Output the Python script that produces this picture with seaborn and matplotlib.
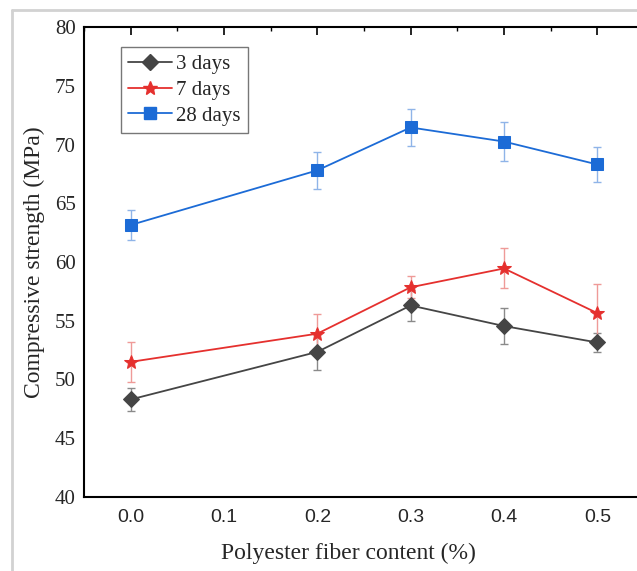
import numpy as np
import pandas as pd
import matplotlib
matplotlib.use("Agg")
import matplotlib.pyplot as plt
import seaborn as sns
from matplotlib.lines import Line2D
from matplotlib.ticker import MultipleLocator

# ---- data ----
fiber = [0.0, 0.2, 0.3, 0.4, 0.5]
s3 = [48.3, 52.35, 56.3, 54.55, 53.15]
e3 = [1.0, 1.5, 1.3, 1.5, 0.8]
s7 = [51.5, 53.9, 57.85, 59.45, 55.65]
e7 = [1.7, 1.7, 0.95, 1.7, 2.5]
s28 = [63.15, 67.8, 71.45, 70.25, 68.3]
e28 = [1.25, 1.55, 1.55, 1.65, 1.5]
series_names = ["3 days", "7 days", "28 days"]
x_ticks = [0.0, 0.1, 0.2, 0.3, 0.4, 0.5]
y_ticks = [40, 45, 50, 55, 60, 65, 70, 75, 80]

colors = {"3 days": "#454545", "7 days": "#e5302e", "28 days": "#1c6bd6"}
err_colors = {"3 days": "#8a8a8a", "7 days": "#ef9a98", "28 days": "#8fb4e8"}
markers = {"3 days": "D", "7 days": "*", "28 days": "s"}
msizes = {"3 days": 8, "7 days": 10, "28 days": 8}

df = pd.DataFrame({
    "fiber": fiber * 3,
    "strength": s3 + s7 + s28,
    "err": e3 + e7 + e28,
    "age": [series_names[0]] * 5 + [series_names[1]] * 5 + [series_names[2]] * 5,
})

sns.set_style("white")
plt.rcParams["font.family"] = ["Liberation Serif", "DejaVu Serif"]

fig = plt.figure(figsize=(6.37, 5.71), dpi=100)
ax = fig.add_axes([84 / 637, 1 - 497 / 571, 560 / 637, 470 / 571])

handles = []
for name in series_names:
    d = df[df["age"] == name]
    ax.errorbar(d["fiber"], d["strength"], yerr=d["err"], fmt="none",
                ecolor=err_colors[name], elinewidth=1.0, capsize=3, capthick=1.0, zorder=2)
    sns.lineplot(data=d, x="fiber", y="strength", ax=ax, color=colors[name],
                 marker=markers[name], markersize=msizes[name],
                 markeredgecolor=colors[name], linewidth=1.3, zorder=3, legend=False)
    handles.append(Line2D([], [], color=colors[name], marker=markers[name],
                          markersize=msizes[name], markeredgecolor=colors[name],
                          linewidth=1.3, label=name))

ax.set_xlim(-0.05, 0.55)
ax.set_ylim(40, 80)
ax.set_xticks(x_ticks)
ax.set_xticklabels([f"{v:.1f}" for v in x_ticks], family="Liberation Sans", fontsize=14)
ax.set_yticks(y_ticks)
ax.set_yticklabels([str(v) for v in y_ticks], fontsize=15)
ax.xaxis.set_minor_locator(MultipleLocator(0.05))
ax.yaxis.set_minor_locator(MultipleLocator(2.5))
ax.tick_params(which="both", direction="in", top=True, right=False, color="black")
ax.tick_params(which="major", length=6, width=1.2)
ax.tick_params(which="minor", length=3, width=1.0)
ax.tick_params(axis="x", which="major", pad=9)
ax.tick_params(axis="y", which="major", pad=6)
for sp in ax.spines.values():
    sp.set_color("black")
    sp.set_linewidth(1.5)

ax.set_xlabel("Polyester fiber content (%)", fontsize=17)
ax.set_ylabel("Compressive strength (MPa)", fontsize=17, labelpad=7)
ax.xaxis.set_label_coords(0.473, -0.098)

leg = ax.legend(handles=handles, loc="upper left", bbox_to_anchor=(0.066, 0.957),
                fontsize=15, frameon=True, fancybox=False, edgecolor="#555555",
                handlelength=2.1, handletextpad=0.2, borderpad=0.35, labelspacing=0.3,
                borderaxespad=0)
leg.get_frame().set_linewidth(1.0)

# light-gray frame of the screenshot
fig.add_artist(Line2D([12 / 637, 12 / 637], [0, 1 - 10 / 571], transform=fig.transFigure,
                      color="#d2d2d2", linewidth=2))
fig.add_artist(Line2D([12 / 637, 1], [1 - 10 / 571, 1 - 10 / 571], transform=fig.transFigure,
                      color="#d2d2d2", linewidth=2))

fig.savefig("out.png", dpi=100)
